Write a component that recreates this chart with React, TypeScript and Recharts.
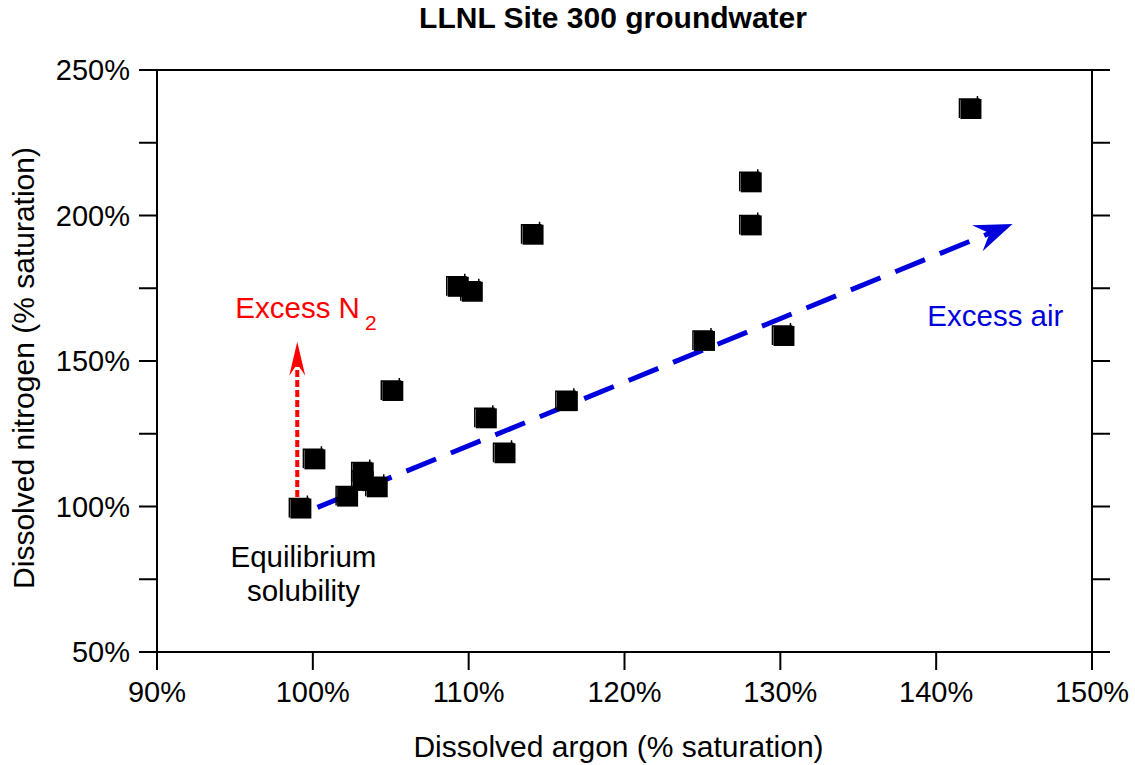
import React from "react";
import {
  ScatterChart, Scatter, XAxis, YAxis, ReferenceLine, ReferenceDot, Label,
} from "recharts";

// dissolved gases, % of saturation
const argon = [99.2, 100.1, 102.2, 103.2, 103.2, 104.1, 105.1, 109.3, 110.2, 111.1, 112.3, 114.1, 116.3, 125.1, 128.1, 128.1, 130.2, 142.2];
const nitrogen = [99.3, 116.2, 103.4, 111.7, 108.8, 106.6, 139.7, 175.5, 173.8, 130.3, 118.3, 193.4, 136.2, 156.9, 211.4, 196.6, 158.6, 236.6];

const xTicks = [90, 100, 110, 120, 130, 140, 150];
const yTicks = [50, 75, 100, 125, 150, 175, 200, 225, 250];

// arrows: [x, y] start / end in data units
const excessAir = [[100.3, 99.7], [144.9, 197.1]];
const excessN2 = [[99.0, 103.3], [99.0, 156.6]];

const points = argon.map((a, i) => ({ ar: a, n2: nitrogen[i] }));

const FONT = "'Liberation Sans', Arial, sans-serif";
const AX = { stroke: "#000", strokeWidth: 2 };
const TICK = { fill: "#000", fontSize: 29, fontFamily: FONT };

const pct = (v: number) => `${v}%`;
const blank = () => "";

function Marker(props: any) {
  const { cx, cy } = props;
  if (cx == null || cy == null) return null;
  return (
    <g>
      <rect x={cx - 10} y={cy - 10} width={21} height={20} fill="#000" />
      <path d={`M${cx - 11},${cy + 9} L${cx - 11},${cy - 10} L${cx + 9},${cy - 10} M${cx + 7},${cy - 13} L${cx + 7},${cy - 9}`} stroke="#000" strokeWidth={1.5} fill="none" />
    </g>
  );
}

function arrowHead(x: number, y: number, ang: number, len: number, half: number) {
  // notched arrowhead pointing along ang
  const c = Math.cos(ang), s = Math.sin(ang);
  const bx = x - c * len, by = y - s * len;
  const nx = x - c * len * 0.65, ny = y - s * len * 0.65;
  const p1 = [bx - s * half, by + c * half];
  const p2 = [bx + s * half, by - c * half];
  return `M${x},${y} L${p1[0]},${p1[1]} L${nx},${ny} L${p2[0]},${p2[1]} Z`;
}

function DashArrow(color: string, width: number, dash: string, len: number, half: number) {
  return (props: any) => {
    const { x1, y1, x2, y2 } = props;
    if (x1 == null) return null;
    const ang = Math.atan2(y2 - y1, x2 - x1);
    const ex = x2 - Math.cos(ang) * len * 0.6;
    const ey = y2 - Math.sin(ang) * len * 0.6;
    return (
      <g>
        <line x1={x1} y1={y1} x2={ex} y2={ey} stroke={color} strokeWidth={width} strokeDasharray={dash} />
        <path d={arrowHead(x2, y2, ang, len, half)} fill={color} />
      </g>
    );
  };
}

function Note(lines: string[], color: string, sub?: string) {
  return (props: any) => {
    const { cx, cy } = props;
    if (cx == null) return null;
    return (
      <text x={cx} y={cy} textAnchor="middle" fill={color} fontSize={29.5} fontFamily={FONT}>
        {lines.map((t, i) => (
          <tspan key={i} x={cx} dy={i === 0 ? 0 : 34}>{t}</tspan>
        ))}
        {sub && <tspan dx={5} dy={12} fontSize={21}>{sub}</tspan>}
      </text>
    );
  };
}

export default function App() {
  return (
    <div style={{ position: "absolute", left: 0, top: 0, width: 1135, height: 765, background: "#fff" }}>
      <div style={{ position: "absolute", left: 0, top: 3, width: 1226, textAlign: "center", fontFamily: FONT, fontWeight: "bold", fontSize: 30, lineHeight: "30px", color: "#000" }}>
        LLNL Site 300 groundwater
      </div>
      <ScatterChart width={1135} height={765} margin={{ top: 50, right: 23, bottom: 0, left: 0 }}>
        <XAxis type="number" dataKey="ar" domain={[90, 150]} ticks={xTicks} tickFormatter={pct} height={113}
          axisLine={AX} tickLine={AX} tickSize={18} tickMargin={11} tick={TICK} interval={0}>
          <Label content={(p: any) => (
            <text x={p.viewBox.x + p.viewBox.width / 2 - 6} y={p.viewBox.y + 105} textAnchor="middle" fontSize={30} fontFamily={FONT} fill="#000">
              Dissolved argon (% saturation)
            </text>
          )} />
        </XAxis>
        <XAxis xAxisId="top" orientation="top" type="number" domain={[90, 150]} ticks={xTicks} height={20}
          axisLine={AX} tickLine={AX} tickSize={18} tick={TICK} tickFormatter={blank} interval={0} allowDataOverflow />
        <YAxis type="number" dataKey="n2" domain={[50, 250]} ticks={yTicks} width={157}
          tickFormatter={(v: number) => (v % 50 === 0 ? pct(v) : "")}
          axisLine={AX} tickLine={AX} tickSize={18} tickMargin={9} tick={TICK} interval={0}>
          <Label content={(p: any) => {
            const cy = p.viewBox.y + p.viewBox.height / 2 + 7;
            return (
              <text x={34} y={cy} transform={`rotate(-90 34 ${cy})`} textAnchor="middle" fontSize={30} fontFamily={FONT} fill="#000">
                Dissolved nitrogen (% saturation)
              </text>
            );
          }} />
        </YAxis>
        <YAxis yAxisId="right" orientation="right" type="number" domain={[50, 250]} ticks={yTicks} width={20}
          axisLine={AX} tickLine={AX} tickSize={18} tick={TICK} tickFormatter={blank} interval={0} allowDataOverflow />

        <ReferenceLine segment={[{ x: excessAir[0][0], y: excessAir[0][1] }, { x: excessAir[1][0], y: excessAir[1][1] }]}
          shape={DashArrow("#0000dd", 5, "32 16", 38, 14)} />
        <ReferenceLine segment={[{ x: excessN2[0][0], y: excessN2[0][1] }, { x: excessN2[1][0], y: excessN2[1][1] }]}
          shape={DashArrow("#ff0000", 4, "7 3", 34, 8)} />

        <Scatter data={points} fill="#000" shape={Marker} isAnimationActive={false} />

        <ReferenceDot x={99.56} y={164.8} r={0} shape={Note(["Excess N"], "#ff0000", "2")} />
        <ReferenceDot x={143.8} y={162.0} r={0} shape={Note(["Excess air"], "#0000dd")} />
        <ReferenceDot x={99.4} y={79.2} r={0} shape={Note(["Equilibrium", "solubility"], "#000")} />
      </ScatterChart>
    </div>
  );
}
